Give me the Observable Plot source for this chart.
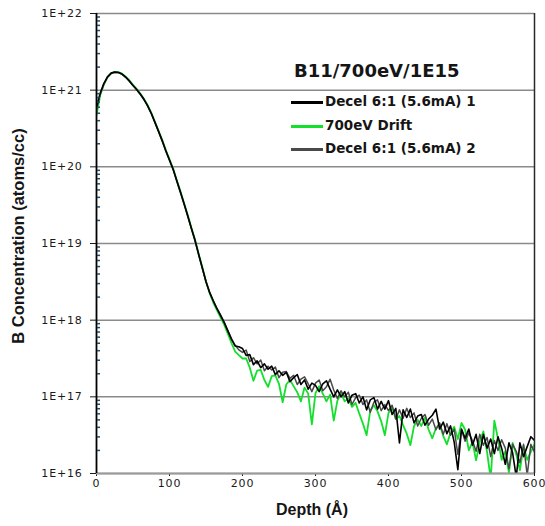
<!DOCTYPE html>
<html>
<head>
<meta charset="utf-8">
<script src="https://cdn.jsdelivr.net/npm/d3@7"></script>
<script src="https://cdn.jsdelivr.net/npm/@observablehq/plot@0.6"></script>
<style>
  html, body { margin: 0; padding: 0; background: #fff; }
  #wrap { position: relative; width: 545px; height: 526px; overflow: hidden; }
  .ov { position: absolute; white-space: nowrap; color: #151515; }
  .title { font-family: "DejaVu Sans", sans-serif; font-weight: bold; font-size: 18px; line-height: 1; }
  .leg { font-family: "DejaVu Sans", sans-serif; font-weight: bold; font-size: 13.5px; line-height: 1; }
  .legline { position: absolute; height: 2.5px; }
  .axlab { font-family: "Liberation Sans", Arial, sans-serif; font-weight: bold; line-height: 1; }
</style>
</head>
<body>
<div id="wrap"></div>
<script>
// ---- data ----
const depth = [
  0,5,10,15,20,25,30,35,40,45,50,55,60,65,70,75,80,85,90,95,
  100,105,110,115,120,125,130,135,140,145,150,155,160,165,170,175,180,185,190,195,
  200,205,210,215,220,225,230,235,240,245,250,255,260,265,270,275,280,285,290,295,
  300,305,310,315,320,325,330,335,340,345,350,355,360,365,370,375,380,385,390,395,
  400,405,410,415,420,425,430,435,440,445,450,455,460,465,470,475,480,485,490,495,
  500,505,510,515,520,525,530,535,540,545,550,555,560,565,570,575,580,585,590,595,600
];

const decel1 = [
  6.0e20,9.1e20,1.22e21,1.49e21,1.67e21,1.72e21,1.70e21,1.62e21,1.48e21,1.32e21,
  1.15e21,1.02e21,8.9e20,7.6e20,6.3e20,5.0e20,3.8e20,2.9e20,2.2e20,1.62e20,
  1.23e20,9.3e19,6.6e19,4.7e19,3.3e19,2.3e19,1.58e19,1.1e19,7.2e18,4.8e18,
  3.2e18,2.3e18,1.78e18,1.41e18,1.15e18,9.3e17,7.2e17,5.6e17,4.6e17,4.5e17,
  4.27e17,3.47e17,3.55e17,2.63e17,2.95e17,2.40e17,2.69e17,2.29e17,2.51e17,1.95e17,
  2.19e17,1.91e17,2.09e17,1.58e17,1.78e17,1.95e17,1.45e17,1.66e17,1.26e17,1.51e17,
  1.41e17,1.17e17,1.48e17,1.62e17,1.26e17,1.00e17,1.23e17,1.00e17,1.17e17,8.32e16,
  1.05e17,1.10e17,8.32e16,1.00e17,6.76e16,9.12e16,9.77e16,6.92e16,8.71e16,6.92e16,
  8.91e16,5.89e16,7.08e16,2.51e16,6.76e16,5.37e16,6.92e16,4.57e16,5.62e16,5.89e16,
  4.27e16,5.13e16,5.75e16,6.92e16,3.80e16,4.68e16,3.31e16,4.17e16,2.57e16,1.12e16,
  3.80e16,2.88e16,3.80e16,2.34e16,3.24e16,1.82e16,3.24e16,2.14e16,2.82e16,1.82e16,
  3.02e16,2.14e16,1.32e16,2.51e16,1.86e16,0.90e16,2.51e16,1.66e16,2.24e16,3.02e16,2.69e16
];

const drift = [
  4.7e20,8.5e20,1.18e21,1.47e21,1.66e21,1.73e21,1.72e21,1.64e21,1.50e21,1.34e21,
  1.17e21,1.04e21,9.0e20,7.7e20,6.4e20,5.1e20,3.9e20,2.95e20,2.25e20,1.65e20,
  1.25e20,9.5e19,6.7e19,4.8e19,3.35e19,2.35e19,1.6e19,1.12e19,7.3e18,4.9e18,
  3.2e18,2.25e18,1.7e18,1.35e18,1.08e18,8.7e17,6.6e17,5.0e17,3.9e17,3.5e17,
  3.16e17,3.16e17,2.40e17,1.62e17,2.19e17,2.24e17,1.66e17,1.35e17,1.86e17,1.91e17,
  1.48e17,8.51e16,1.45e17,1.66e17,1.38e17,1.15e17,8.71e16,1.32e17,1.10e17,4.37e16,
  1.12e17,1.38e17,1.10e17,8.71e16,1.07e17,4.90e16,8.91e16,1.12e17,8.71e16,9.55e16,
  7.41e16,8.32e16,6.03e16,4.47e16,3.16e16,6.61e16,7.76e16,6.46e16,4.79e16,3.16e16,
  6.17e16,7.24e16,5.13e16,5.62e16,4.27e16,3.31e16,2.34e16,4.17e16,5.01e16,4.17e16,
  5.37e16,3.72e16,2.88e16,3.89e16,4.47e16,3.09e16,2.40e16,3.39e16,4.07e16,2.82e16,
  4.57e16,3.72e16,2.00e16,2.57e16,1.48e16,2.57e16,3.55e16,1.91e16,0.85e16,4.90e16,
  2.82e16,1.51e16,1.95e16,1.02e16,2.51e16,1.78e16,1.10e16,2.29e16,1.51e16,1.91e16,2.40e16
];

const decel2 = [
  5.6e20,8.8e20,1.19e21,1.47e21,1.65e21,1.71e21,1.70e21,1.61e21,1.47e21,1.31e21,
  1.15e21,1.01e21,8.8e20,7.5e20,6.2e20,4.95e20,3.8e20,2.9e20,2.15e20,1.6e20,
  1.21e20,9.2e19,6.5e19,4.6e19,3.25e19,2.25e19,1.55e19,1.08e19,7.1e18,4.7e18,
  3.15e18,2.3e18,1.8e18,1.43e18,1.17e18,9.4e17,7.3e17,5.7e17,4.7e17,4.1e17,
  3.80e17,4.07e17,2.88e17,3.24e17,2.69e17,3.02e17,2.19e17,2.51e17,2.24e17,2.45e17,
  1.78e17,2.09e17,2.14e17,1.74e17,1.91e17,1.45e17,1.70e17,1.82e17,1.48e17,1.17e17,
  1.51e17,1.66e17,1.20e17,1.35e17,1.70e17,1.23e17,9.55e16,1.20e17,1.00e17,1.15e17,
  7.94e16,9.77e16,1.05e17,7.94e16,9.12e16,6.31e16,8.51e16,9.12e16,6.61e16,7.94e16,
  6.61e16,7.76e16,5.13e16,6.76e16,5.25e16,7.08e16,5.37e16,6.17e16,4.17e16,5.25e16,
  5.89e16,4.27e16,5.13e16,3.72e16,4.57e16,3.24e16,4.47e16,3.16e16,3.80e16,1.78e16,
  3.72e16,2.63e16,3.39e16,2.69e16,1.95e16,3.24e16,2.34e16,2.95e16,1.66e16,2.69e16,
  2.00e16,2.75e16,2.14e16,1.15e16,2.40e16,1.95e16,1.38e16,2.40e16,0.95e16,2.40e16,1.91e16
];

const seriesNames = ["Decel 6:1 (5.6mA) 1", "700eV Drift", "Decel 6:1 (5.6mA) 2"];
const seriesColors = ["#000000", "#12e02a", "#4a4a4a"];
const chartTitle = "B11/700eV/1E15";
const xLabel = "Depth (Å)";
const yLabel = "B Concentration  (atoms/cc)";
const yTicks = [1e16, 1e17, 1e18, 1e19, 1e20, 1e21, 1e22];
const yTickLabels = ["1E+16", "1E+17", "1E+18", "1E+19", "1E+20", "1E+21", "1E+22"];
const xTicks = [0, 100, 200, 300, 400, 500, 600];

// ---- build ----
const values = [decel1, drift, decel2];
const rowsFor = (k) => depth.map((d, i) => ({ depth: d, conc: values[k][i], series: seriesNames[k] }));
const minorTicks = [];
for (let e = 16; e < 22; e++) for (let m = 2; m <= 9; m++) minorTicks.push(m * Math.pow(10, e));

const plotW = 545, mL = 96, mR = 11;
const frameW = plotW - mL - mR;

const chart = Plot.plot({
  width: plotW,
  height: 526,
  marginLeft: mL,
  marginRight: mR,
  marginTop: 13,
  marginBottom: 53,
  style: { fontFamily: "'DejaVu Sans', sans-serif", fontSize: "11px", color: "#1a1a1a", background: "#fff", letterSpacing: "0.8px" },
  x: { domain: [0, 600] },
  y: { type: "log", domain: [1e16, 1e22] },
  marks: [
    Plot.gridY(yTicks, { stroke: "#8a8a8a", strokeOpacity: 1, strokeWidth: 1.5 }),
    Plot.axisY(yTicks, { anchor: "left", tickSize: 6, tickPadding: 8, tickFormat: d => yTickLabels[yTicks.indexOf(d)], label: null }),
    Plot.axisX(xTicks, { anchor: "bottom", tickSize: 3, tickPadding: 3, label: null }),
    Plot.line(rowsFor(1), { x: "depth", y: "conc", stroke: seriesColors[1], strokeWidth: 1.8, clip: true }),
    Plot.line(rowsFor(2), { x: "depth", y: "conc", stroke: seriesColors[2], strokeWidth: 1.5, clip: true }),
    Plot.line(rowsFor(0), { x: "depth", y: "conc", stroke: seriesColors[0], strokeWidth: 1.6, clip: true }),
    Plot.ruleY([1e16], { stroke: "#9a9a9a", strokeWidth: 2 }),
    Plot.ruleX([0], { stroke: "#000", strokeWidth: 1.8 }),
    Plot.ruleX([600], { stroke: "#2a2a2a", strokeWidth: 1.5 }),
    Plot.tickY(minorTicks, { y: d => d, stroke: "#1f4a66", strokeWidth: 1.5, insetLeft: 1, insetRight: frameW - 4 })
  ]
});

const wrap = document.getElementById("wrap");
wrap.appendChild(chart);

function addDiv(cls, text, css) {
  const el = document.createElement("div");
  el.className = "ov " + cls;
  el.textContent = text;
  Object.assign(el.style, css);
  wrap.appendChild(el);
  return el;
}

// title
addDiv("title", chartTitle, { left: "294px", top: "62px" });

// legend
const legRowsY = [102, 126, 149];
seriesNames.forEach((name, k) => {
  const ln = document.createElement("div");
  ln.className = "legline";
  Object.assign(ln.style, { left: "291px", top: (legRowsY[k] - 1) + "px", width: "32px", background: seriesColors[k] });
  wrap.appendChild(ln);
  addDiv("leg", name, { left: "325px", top: (legRowsY[k] - 7) + "px" });
});

// axis labels
addDiv("axlab", xLabel, { left: "312px", top: "510px", fontSize: "16px", transform: "translate(-50%,-50%)" });
addDiv("axlab", yLabel, { left: "18px", top: "236px", fontSize: "16.5px", transform: "translate(-50%,-50%) rotate(-90deg)" });
</script>
</body>
</html>
